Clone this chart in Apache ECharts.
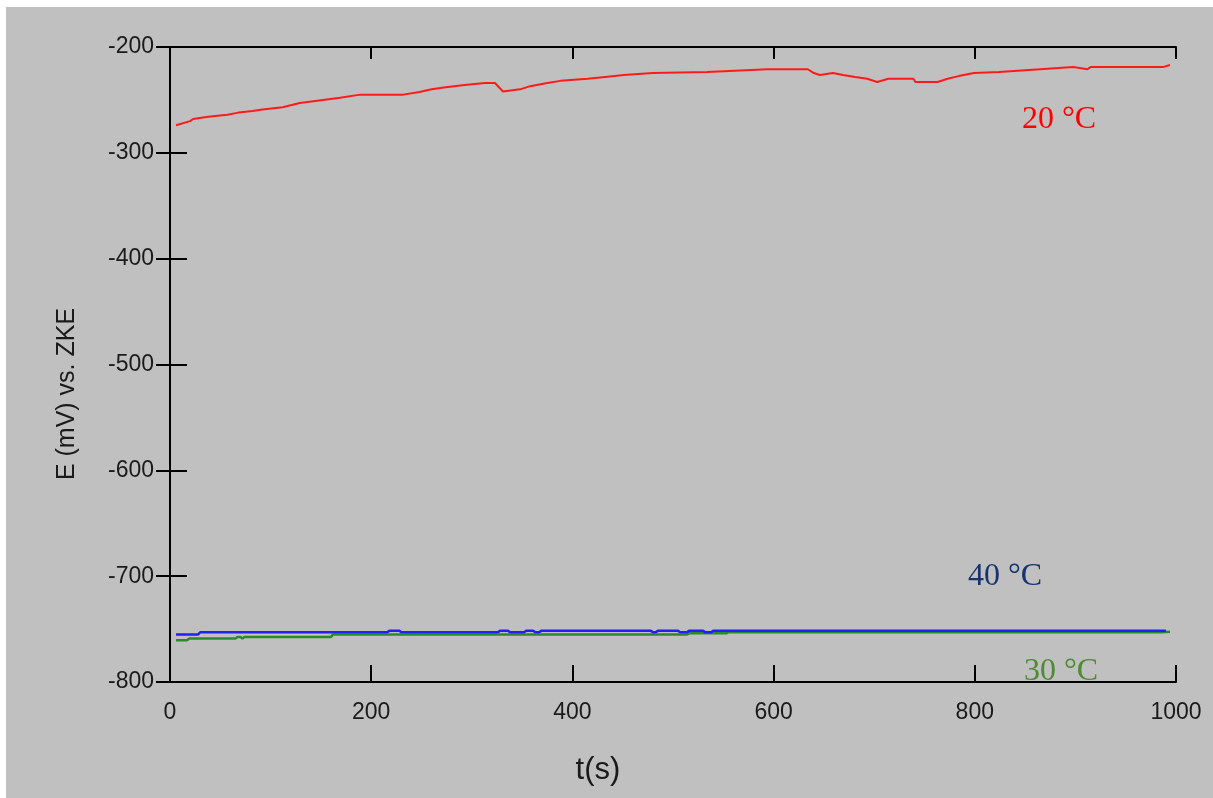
<!DOCTYPE html>
<html>
<head>
<meta charset="utf-8">
<script src="https://cdn.jsdelivr.net/npm/echarts@6/dist/echarts.min.js"></script>
<style>
html,body{margin:0;padding:0;background:#ffffff;}
#c{width:1213px;height:798px;}
</style>
</head>
<body>
<div id="c"></div>
<script>
var xTicks = [0, 200, 400, 600, 800, 1000];
var yTicks = [-800, -700, -600, -500, -400, -300, -200];

var red20 = [[6,-274],[20,-270],[23,-268],[38,-266],[57,-264],[68,-262],[82,-260.5],[92,-259],[112,-257],[129,-253],[152,-250],[169,-248],[189,-245],[232,-245],[248,-242.5],[260,-240],[274,-238],[293,-236],[313,-234],[323,-234],[331,-242],[348,-240],[358,-237],[375,-234],[388,-232],[415,-230],[435,-228],[451,-226.5],[480,-224.6],[534,-223.6],[594,-221],[634,-221],[640,-224.6],[646,-226.5],[659,-224.6],[669,-226.5],[681,-228.4],[693,-230],[703,-233],[714,-230],[739,-230],[741,-233],[763,-233],[773,-230],[784,-227.5],[799,-224.6],[824,-223.6],[865,-221],[898,-219],[912,-221],[915,-219],[987,-219],[994,-217]];

var blue40 = [[6,-755],[28,-755],[30,-753],[216,-753],[218,-751.5],[228,-751.5],[230,-753],[326,-753],[328,-751.5],[336,-751.5],[338,-753],[352,-753],[354,-751.5],[361,-751.5],[363,-753],[367,-753],[369,-751.5],[478,-751.5],[480,-753],[483,-753],[485,-751.5],[505,-751.5],[507,-753],[514,-753],[516,-751.5],[530,-751.5],[532,-753],[538,-753],[540,-751.5],[990,-751.5]];

var green30 = [[6,-760.5],[17,-760.5],[19,-759],[65,-759],[67,-757.5],[70,-757.5],[72,-759],[74,-757.5],[160,-757.5],[162,-755],[514,-755],[516,-754],[553,-754],[555,-753],[985,-753],[994,-752.5]];

var chart = echarts.init(document.getElementById('c'));
var axisLine = {show:true, lineStyle:{color:'#000', width:2}};
var labelStyle = {color:'#1a1a1a', fontFamily:'Arial, "Liberation Sans", sans-serif', fontSize:23,
  formatter:function(v){return String(v);}};
var serif = '"Liberation Serif", "Times New Roman", serif';

chart.setOption({
  backgroundColor:'#ffffff',
  animation:false,
  graphic:[
    {type:'rect', left:6, top:7, shape:{width:1207, height:791}, style:{fill:'#c0c0c0'}, z:-10, silent:true},
    {type:'text', x:1022, y:104, style:{text:'20 °C', fill:'#ff0000', font:'32px ' + serif}},
    {type:'text', x:968, y:561, style:{text:'40 °C', fill:'#16336e', font:'32px ' + serif}},
    {type:'text', x:1024, y:656, style:{text:'30 °C', fill:'#4f8a35', font:'32px ' + serif}},
    {type:'text', x:598, y:770, style:{text:'t(s)', fill:'#1a1a1a', font:'31px Arial, "Liberation Sans", sans-serif', align:'center', verticalAlign:'middle'}},
    {type:'text', x:67, y:394, rotation:Math.PI/2,
      style:{text:'E (mV) vs. ZKE', fill:'#1a1a1a', font:'25px Arial, "Liberation Sans", sans-serif', align:'center', verticalAlign:'middle'}}
  ],
  grid:{left:170, right:37, top:47, bottom:116, show:false},
  xAxis:[
    {type:'value', min:xTicks[0], max:xTicks[xTicks.length-1], interval:200, position:'bottom',
     axisLine:axisLine, axisTick:{show:true, inside:true, length:17, lineStyle:{color:'#000', width:2}},
     axisLabel:Object.assign({margin:19}, labelStyle), splitLine:{show:false}},
    {type:'value', min:xTicks[0], max:xTicks[xTicks.length-1], interval:200, position:'top',
     axisLine:axisLine, axisTick:{show:true, inside:true, length:12, lineStyle:{color:'#000', width:2}},
     axisLabel:{show:false}, splitLine:{show:false}}
  ],
  yAxis:[
    {type:'value', min:yTicks[0], max:yTicks[yTicks.length-1], interval:100, position:'left',
     axisLine:axisLine, axisTick:{show:true, inside:true, length:17, lineStyle:{color:'#000', width:2}},
     axisLabel:Object.assign({margin:16}, labelStyle), splitLine:{show:false}},
    {type:'value', min:yTicks[0], max:yTicks[yTicks.length-1], interval:100, position:'right',
     axisLine:axisLine, axisTick:{show:true, inside:true, length:14, lineStyle:{color:'#000', width:2}},
     axisLabel:{show:false}, splitLine:{show:false}}
  ],
  series:[
    {name:'30 °C', type:'line', data:green30, showSymbol:false, lineStyle:{color:'#2a8a2a', width:2.5}, z:2},
    {name:'40 °C', type:'line', data:blue40, showSymbol:false, lineStyle:{color:'#1f1fff', width:2.5}, z:3},
    {name:'20 °C', type:'line', data:red20, showSymbol:false, lineStyle:{color:'#ff1a1a', width:2}, z:3}
  ]
});
</script>
</body>
</html>
